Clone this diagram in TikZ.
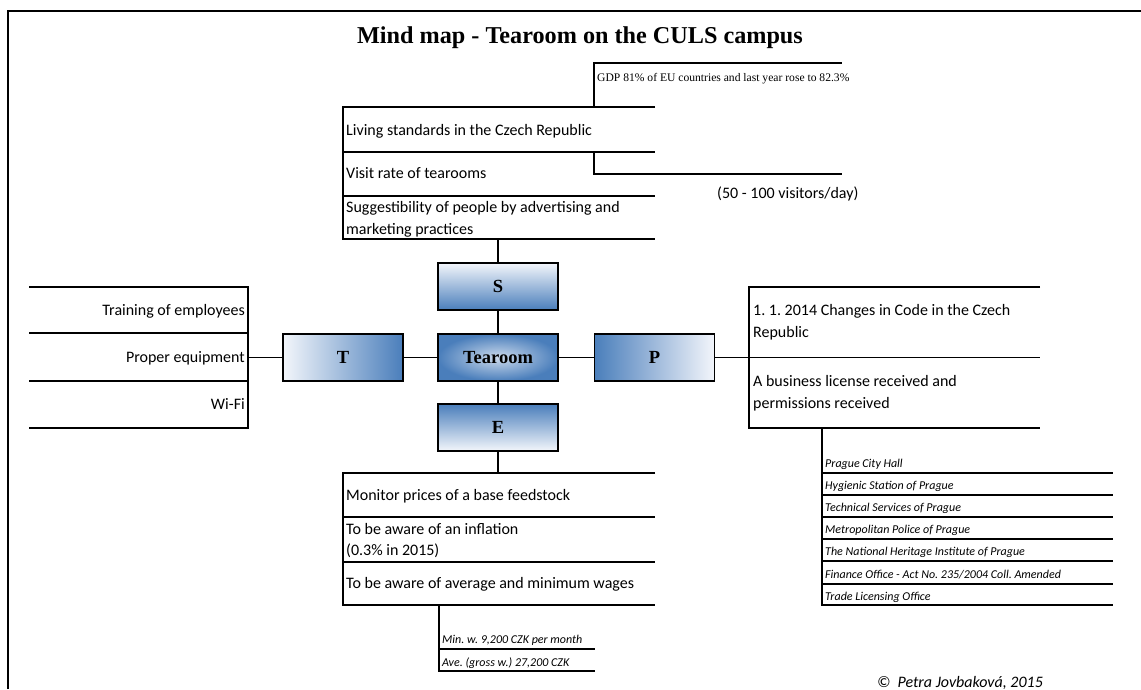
\documentclass[tikz,border=0pt]{standalone}
\usepackage{fontspec}
\setmainfont{Carlito}
\newfontfamily\tnr{Liberation Serif}
\definecolor{bl}{HTML}{4A7EBB}
\definecolor{lt}{HTML}{F3F6FB}
\definecolor{mid}{HTML}{CCDAEC}
\tikzset{
  fr/.style={line width=1.1pt},
  lbl/.style={anchor=base west, inner sep=0pt, font=\fontsize{16}{22}\selectfont, align=left},
  rlbl/.style={anchor=base east, inner sep=0pt, font=\fontsize{16}{22}\selectfont},
  sml/.style={anchor=base west, inner sep=0pt, font=\fontsize{12}{14}\selectfont\itshape},
  lettbox/.style={draw=black, line width=1.2pt, minimum width=120pt, minimum height=47pt, inner sep=0pt,
     font=\tnr\bfseries\fontsize{18.5}{20}\selectfont},
  conn/.style={line width=1.1pt}
}
\begin{document}
\frenchspacing
\begin{tikzpicture}[x=1pt,y=-1pt]
\useasboundingbox (0,0) rectangle (1141,689);
% outer frame
\draw[line width=2pt] (8,689) -- (8,11) -- (1141,11);
% title
\node[anchor=base, inner sep=0pt, font=\tnr\bfseries\fontsize{24.2}{28}\selectfont] (title) at (580,43) {Mind map - Tearoom on the CULS campus};

% central boxes
\node[lettbox, top color=lt, bottom color=bl] (S) at (498,286.5) {S};
\node[lettbox, shading=radial, inner color=mid, outer color=bl] (Tea) at (498,357.5) {Tearoom};
\node[lettbox, top color=bl, bottom color=lt] (E) at (498,427.5) {E};
\node[lettbox, left color=lt, right color=bl] (T) at (343,357.5) {T};
\node[lettbox, left color=bl, right color=lt] (P) at (654.5,357.5) {P};

% S list
\draw[fr] (655,107) -- (343,107) -- (343,239) -- (655,239);
\draw[fr] (343,152) -- (655,152);
\draw[fr] (343,196) -- (655,196);
\draw[fr] (594,107) -- (594,63) -- (842,63);
\draw[fr] (594,152) -- (594,174) -- (842,174);
\node[lbl] (s1) at (346,135) {Living standards in the Czech Republic};
\node[lbl] (s2) at (346,178) {Visit rate of tearooms};
\node[lbl] (s3) at (346,234) {Suggestibility of people by advertising and\\marketing practices};
\node[anchor=base west, inner sep=0pt, font=\tnr\fontsize{11.6}{13}\selectfont] (gdp) at (597,81) {GDP 81\% of EU countries and last year rose to 82.3\%};
\node[lbl] (vis) at (717,198) {(50 - 100 visitors/day)};
\coordinate (sc) at (498,239);

% T list
\draw[fr] (29,287) -- (248,287) -- (248,428) -- (29,428);
\draw[fr] (29,333) -- (248,333);
\draw[fr] (29,381) -- (248,381);
\node[rlbl] (t1) at (245,315) {Training of employees};
\node[rlbl] (t2) at (245,362) {Proper equipment};
\node[rlbl] (t3) at (245,409) {Wi-Fi};
\coordinate (tc) at (248,357.5);

% P list
\draw[fr] (1040,287) -- (749,287) -- (749,428) -- (1040,428);
\draw[fr] (749,357.5) -- (1040,357.5);
\node[lbl] (p1) at (753,337) {1. 1. 2014 Changes in Code in the Czech\\Republic};
\node[lbl] (p2) at (753,408) {A business license received and\\permissions received};
\coordinate (pc) at (749,357.5);
% P sub list
\draw[fr] (822,428) -- (822,605) -- (1113,605);
\foreach \yy in {473,495,517,539,561,584} \draw[fr] (822,\yy) -- (1113,\yy);
\node[sml] (q1) at (825,467) {Prague City Hall};
\node[sml] (q2) at (825,489) {Hygienic Station of Prague};
\node[sml] (q3) at (825,511) {Technical Services of Prague};
\node[sml] (q4) at (825,533) {Metropolitan Police of Prague};
\node[sml] (q5) at (825,555) {The National Heritage Institute of Prague};
\node[sml] (q6) at (825,578) {Finance Office - Act No. 235/2004 Coll. Amended};
\node[sml] (q7) at (825,600) {Trade Licensing Office};

% E list
\draw[fr] (655,473) -- (343,473) -- (343,605) -- (655,605);
\draw[fr] (343,517) -- (655,517);
\draw[fr] (343,562) -- (655,562);
\node[lbl] (e1) at (346,500) {Monitor prices of a base feedstock};
\node[lbl] (e2) at (346,555) {To be aware of an inflation\\[-1pt](0.3\% in 2015)};
\node[lbl] (e3) at (346,588) {To be aware of average and minimum wages};
\coordinate (ec) at (498,473);
\draw[fr] (439,605) -- (439,671) -- (595,671);
\draw[fr] (439,649) -- (595,649);
\node[sml] (m1) at (442,643) {Min. w. 9,200 CZK per month};
\node[sml] (m2) at (442,666) {Ave. (gross w.) 27,200 CZK};

% connectors
\draw[conn] (S.north) -- (sc);
\draw[conn] (S.south) -- (Tea.north);
\draw[conn] (Tea.south) -- (E.north);
\draw[conn] (E.south) -- (ec);
\draw[conn] (T.west) -- (tc);
\draw[conn] (T.east) -- (Tea.west);
\draw[conn] (Tea.east) -- (P.west);
\draw[conn] (P.east) -- (pc);

% copyright
\node[anchor=base west, inner sep=0pt, font=\fontsize{16}{18}\selectfont\itshape] (copy) at (877,687) {©\hspace{7pt}Petra Jovbaková, 2015};
\end{tikzpicture}
\end{document}
